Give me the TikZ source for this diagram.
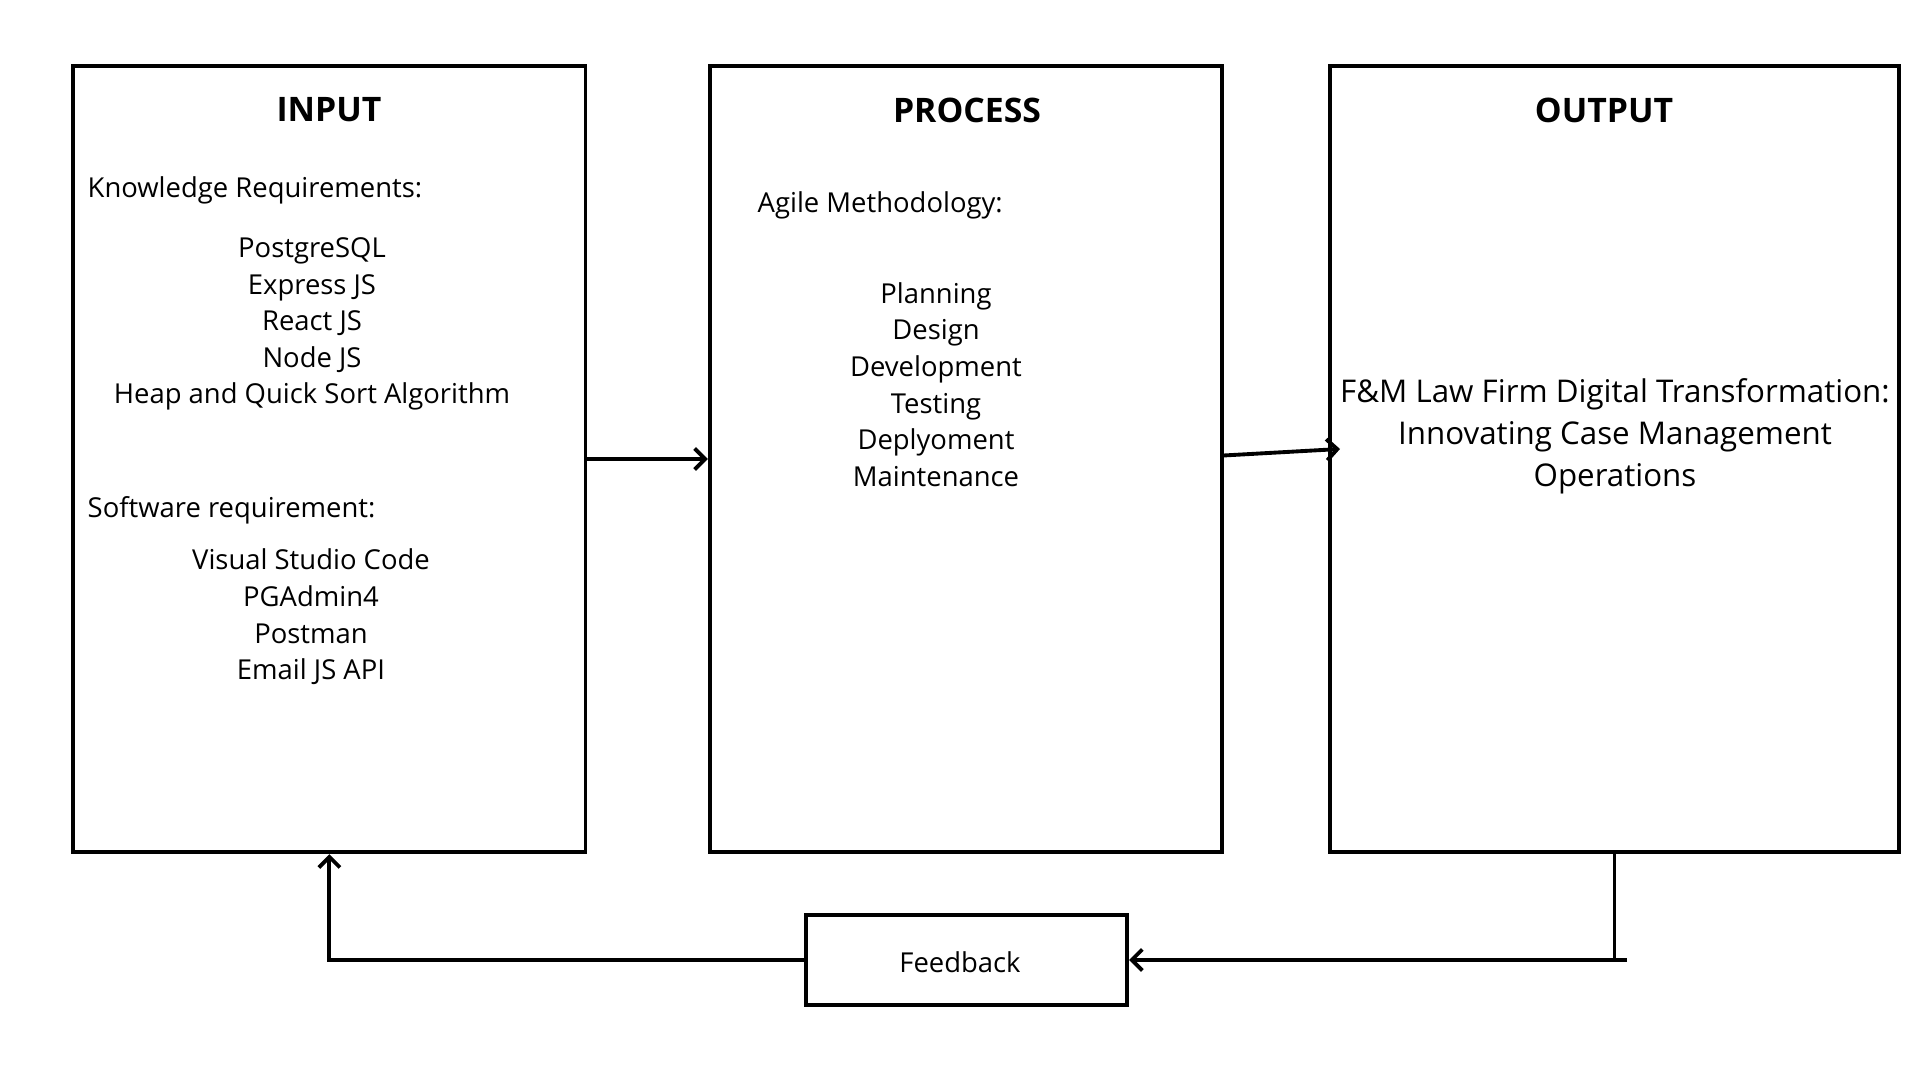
\documentclass[tikz,border=0pt]{standalone}
\usepackage{fontspec}
\setmainfont{Open Sans}
\usepackage{tikz}
\usetikzlibrary{arrows.meta,positioning,calc}

\begin{document}
\begin{tikzpicture}[x=0.01cm,y=-0.01cm,
    box/.style={draw,line width=1.1pt,inner sep=0pt},
    title/.style={font=\fontsize{9.6}{12}\selectfont\bfseries},
    txt/.style={font=\fontsize{7.8}{10.4}\selectfont,inner sep=0pt},
    list/.style={txt,align=center},
    flow/.style={line width=1.1pt,-{Straight Barb[length=3pt,width=6pt,line width=1.1pt]}}]
    \useasboundingbox (0,0) rectangle (1920,1080);

    % the three blocks
    \node [box, minimum width=5.12cm, minimum height=7.86cm] (input) at (329.4,459) {};
    \node [box, minimum width=5.12cm, minimum height=7.86cm] (process) at (966,459) {};
    \node [box, minimum width=5.69cm, minimum height=7.86cm] (output) at (1614.5,459) {};
    \node [box, minimum width=3.21cm, minimum height=0.90cm] (feedback) at (966.5,960) {};
    \node [txt] (feedbacktext) at (960,962) {Feedback};

    \node [title] (inputtitle) at (329,110) {INPUT};
    \node [title] (processtitle) at (967,110) {PROCESS};
    \node [title] (outputtitle) at (1604,110) {OUTPUT};

    % input
    \node [txt, anchor=west] (knowledge) at (87,190) {Knowledge Requirements:};
    \node [list] (tools) at (312,324) {PostgreSQL\\Express JS\\React JS\\Node JS\\Heap and Quick Sort Algorithm};
    \node [txt, anchor=west] (software) at (87,510) {Software requirement:};
    \node [list] (apps) at (311,617) {Visual Studio Code\\PGAdmin4\\Postman\\Email JS API};

    % process
    \node [txt, anchor=west] (agile) at (757,205) {Agile Methodology:};
    \node [list] (phases) at (936,384.5) {Planning\\Design\\Development\\Testing\\Deplyoment\\Maintenance};

    % output
    \node [list, font=\fontsize{8.9}{12}\selectfont] (result) at (1615,436) {F\&M Law Firm Digital Transformation:\\Innovating Case Management\\Operations};

    % connectors
    \coordinate (outin) at (1340,449);
    \coordinate (fbcorner) at (1627,960);
    \draw [flow] (input.east) -- (process.west);
    \draw [flow] ([yshift=1pt]process.east) -- (outin);
    \draw [line width=1.1pt] (output.south) -- (output.south |- fbcorner);
    \draw [flow] (fbcorner) -- (feedback.east);
    \draw [flow] (feedback.west) -| (input.south);
\end{tikzpicture}
\end{document}
